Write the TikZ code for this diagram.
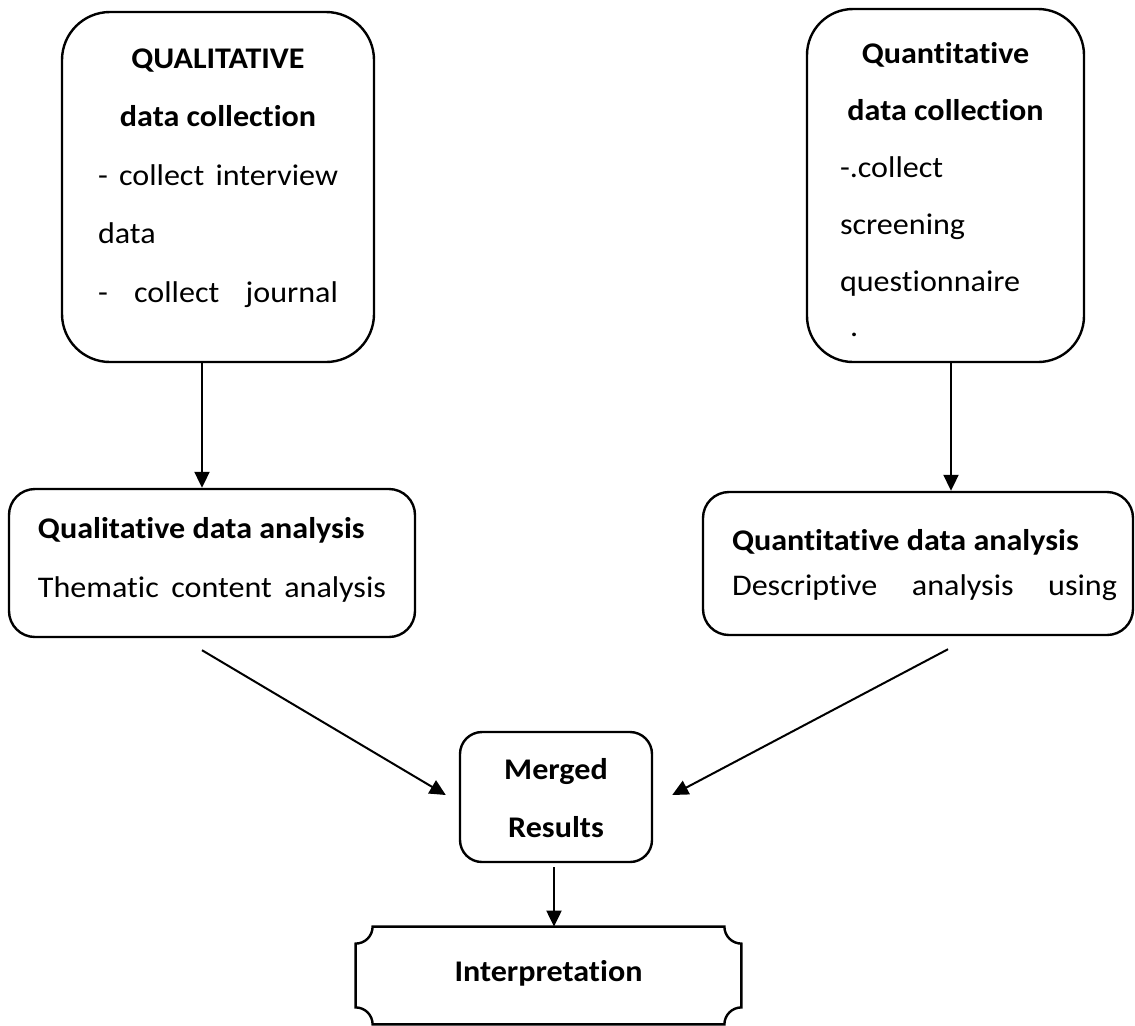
\documentclass[tikz,border=0pt]{standalone}
\usepackage{fontspec}
\setmainfont{Carlito}[FakeStretch = 1.07, Ligatures = NoCommon]
\usetikzlibrary{arrows.meta}

\begin{document}
\begin{tikzpicture}[> = {Triangle[length = 8pt, width = 7.5pt]}, x = 0.5pt, y = 0.5pt,
	box/.style = {draw, line width = 1.2pt, inner ysep = 0pt, align = left},
	lines/.style = {font = {\fontsize{15}{#1}\selectfont}},
	link/.style = {->, line width = 1pt},
	execute at begin node = {\spaceskip = 0pt \xspaceskip = 0pt}]

\def\midline#1{\hfill#1\hfill\null}
\def\spread#1#2{\makebox[#1][s]{#2}}
\def\R{8.5pt}

\useasboundingbox (0, 0) rectangle (1135, -1025);

\node [box, lines = 29.25pt, rounded corners = 24pt, inner xsep = 18pt, text width = 120pt, text height = 28pt, text depth = 147pt] (qualcoll) at (218, -187) {
	\midline{\textbf{QUALITATIVE}}\\
	\midline{\textbf{data collection}}\\
	\spread{\linewidth}{- collect interview}\\
	data\\
	\spread{\linewidth}{- collect journal}};

\node [box, lines = 28.5pt, rounded corners = 23pt, inner xsep = 16.5pt, text width = 105.5pt, text height = 27pt, text depth = 149.5pt] (quantcoll) at (945.5, -185.5) {
	\midline{\textbf{Quantitative}}\\
	\midline{\textbf{data collection}}\\
	-.collect\\
	screening\\
	questionnaire\\[-6pt]
	\hspace*{5pt}.};

\node [box, lines = 29.5pt, rounded corners = 13pt, inner xsep = 14.5pt, text width = 174pt, text height = 24.5pt, text depth = 49.5pt] (qualana) at (212, -563) {
	\textbf{Qualitative data analysis}\\
	\spread{\linewidth}{Thematic content analysis}};

\node [box, lines = 22.5pt, rounded corners = 13pt, inner xsep = 14.5pt, text width = 186pt, text height = 29pt, text depth = 42.5pt] (quantana) at (918, -563.5) {
	\textbf{Quantitative data analysis}\\
	\spread{192.5pt}{Descriptive analysis using}};

\node [box, lines = 29pt, align = center, rounded corners = 11pt, inner xsep = 10pt, text width = 76pt, text height = 23.5pt, text depth = 41.5pt] (merged) at (556, -797) {
	\textbf{Merged}\\
	\textbf{Results}};

\node [lines = 18pt, align = center, inner xsep = 10pt, inner ysep = 0pt, text width = 172.5pt, text height = 27pt, text depth = 21.5pt] (interp) at (548.5, -975.5) {\textbf{Interpretation}};

\draw [line width = 1.2pt] ([yshift = -\R]interp.north west) arc [start angle = 270, end angle = 360, radius = \R]
	-- ([xshift = -\R]interp.north east) arc [start angle = 180, end angle = 270, radius = \R]
	-- ([yshift = \R]interp.south east) arc [start angle = 90, end angle = 180, radius = \R]
	-- ([xshift = \R]interp.south west) arc [start angle = 0, end angle = 90, radius = \R] -- cycle;

\draw [link] ([xshift = -8pt]qualcoll.south) -- ([xshift = -8pt]qualcoll.south |- qualana.north);
\draw [link] ([xshift = 2.75pt]quantcoll.south) -- ([xshift = 2.75pt]quantcoll.south |- quantana.north);

\draw [link] ([xshift = -5pt, yshift = -6pt]qualana.south) -- ([xshift = -6.5pt, yshift = 1pt]merged.west);
\draw [link] ([xshift = 15pt, yshift = -6.5pt]quantana.south) -- ([xshift = 9.5pt, yshift = 1pt]merged.east);

\draw [link] ([xshift = -1pt, yshift = -2pt]merged.south) -- ([xshift = -1pt]merged.south |- interp.north);

\end{tikzpicture}
\end{document}
